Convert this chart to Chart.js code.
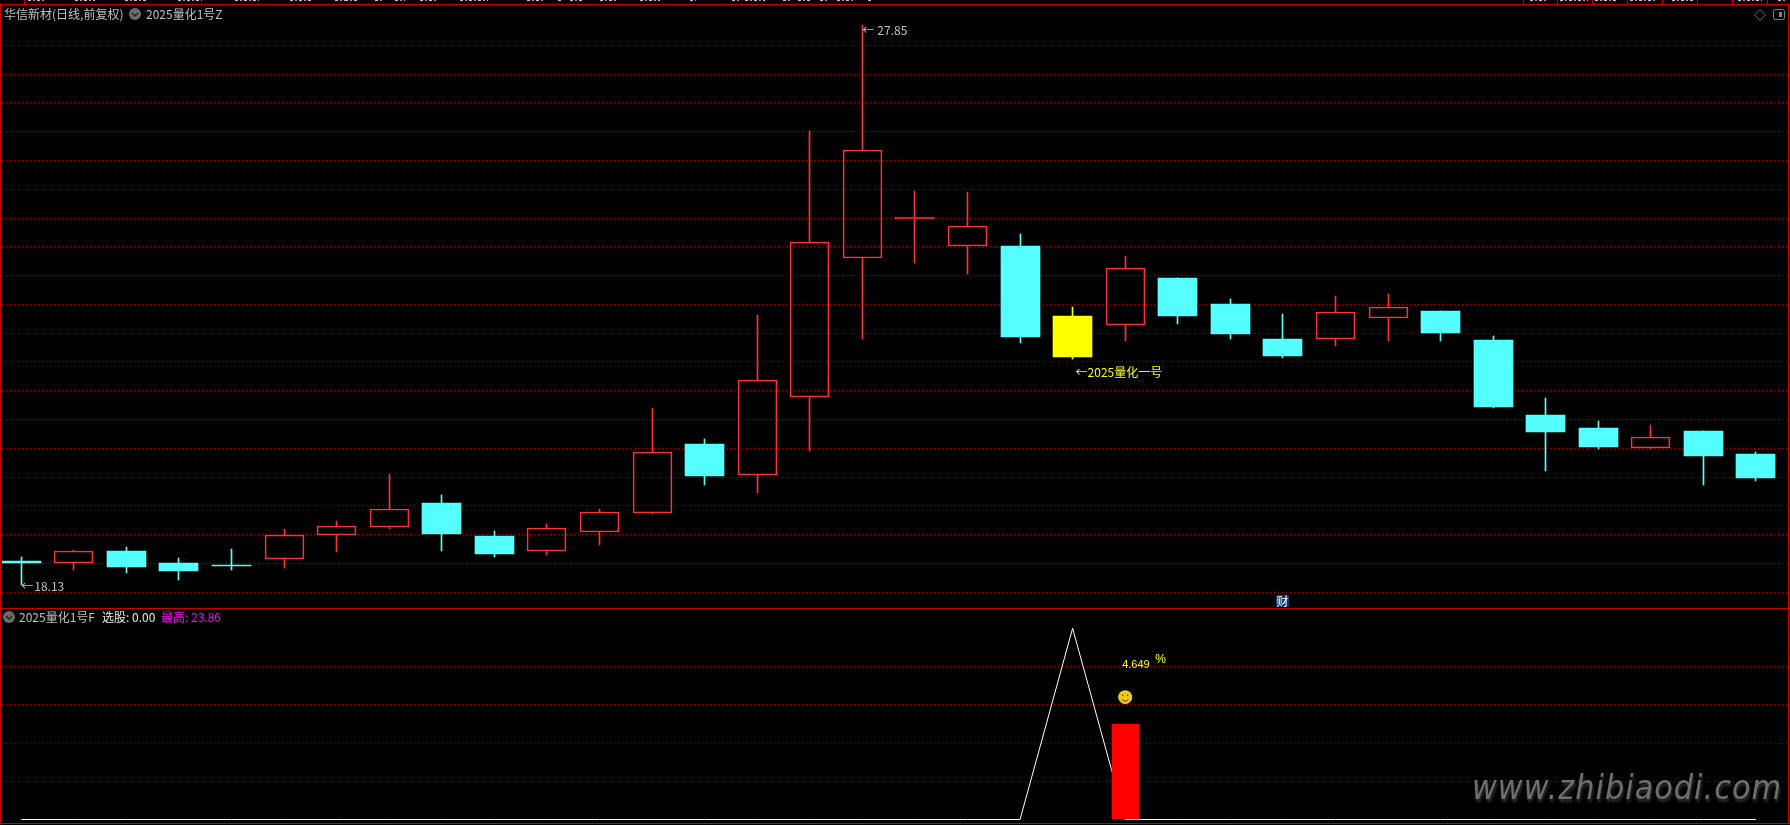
<!DOCTYPE html>
<html>
<head>
<meta charset="utf-8">
<title>华信新材</title>
<script src="https://cdn.jsdelivr.net/npm/chart.js@4/dist/chart.umd.min.js"></script>
<style>
html, body { margin: 0; padding: 0; background: #000; overflow: hidden; }
#page { position: relative; width: 1790px; height: 825px; background: #000; overflow: hidden; }
canvas { position: absolute; left: 0; }
#mainChart { top: 5px; }
#subChart { top: 609px; }
.rule { position: absolute; background: #c80000; }
.label { position: absolute; font: 12px "Noto Sans CJK SC", sans-serif; line-height: 14px; white-space: nowrap; color: #c0c0c0; }
.badge { position: absolute; left: 1276px; top: 595px; width: 13px; height: 12px; background: #0a3a6a; color: #fff; font: 12px/12px "Noto Sans CJK SC", sans-serif; text-align: center; }
.mark { position: absolute; height: 1px; top: 0; }
#watermark { position: absolute; left: 1472px; top: 768px; font: italic 33px "DejaVu Sans", sans-serif; letter-spacing: 1.1px; color: #6f6f6f; text-shadow: 1px 3px 3px #333; white-space: nowrap; transform: scaleX(0.92); transform-origin: left top; }
svg { position: absolute; }
</style>
</head>
<body>
<div id="page">
    <canvas id="mainChart" width="1790" height="603"></canvas>
    <canvas id="subChart" width="1790" height="214"></canvas>
    <div id="watermark">www.zhibiaodi.com</div>

    <div class="label" style="left:4px;top:7px">华信新材(日线,前复权)</div>
    <svg style="left:129px;top:8px" width="12" height="12"><circle cx="6" cy="6" r="6" fill="#6a6a6a"/><path d="M3 5 L6 8 L9 5" stroke="#222" stroke-width="1.5" fill="none"/></svg>
    <div class="label" style="left:146px;top:7px">2025量化1号Z</div>

    <svg style="left:3px;top:611px" width="12" height="12"><circle cx="6" cy="6" r="6" fill="#6a6a6a"/><path d="M3 5 L6 8 L9 5" stroke="#222" stroke-width="1.5" fill="none"/></svg>
    <div class="label" style="left:19px;top:610px">2025量化1号F</div>
    <div class="label" style="left:102px;top:610px;color:#e8e8e8">选股: 0.00</div>
    <div class="label" style="left:161px;top:610px;color:#ff00ff">最高: 23.86</div>

    <svg style="left:1754px;top:9px" width="32" height="12"><path d="M6 0.5 L11.5 6 L6 11.5 L0.5 6 Z" stroke="#707070" fill="none"/><rect x="19.5" y="0.5" width="11" height="10" rx="2" stroke="#808080" fill="none"/><rect x="25" y="3" width="3" height="5" fill="#808080"/></svg>

    <div class="badge">财</div>
</div>
<script>
// candles
const opens = [18.54, 18.50, 18.72, 18.51, 18.47, 18.57, 19.00, 19.14, 19.55, 18.98, 18.71, 19.05, 19.38, 20.58, 20.03, 21.40, 23.81, 24.49, 24.02, 24.01, 22.80, 22.65, 23.46, 23.01, 22.40, 22.40, 22.77, 22.89, 22.38, 21.08, 20.85, 20.51, 20.80, 20.40];
const closes = [18.51, 18.71, 18.44, 18.37, 18.46, 18.99, 19.15, 19.44, 19.01, 18.67, 19.11, 19.39, 20.43, 20.02, 21.68, 24.08, 25.69, 24.52, 24.37, 22.43, 22.09, 23.63, 22.80, 22.49, 22.10, 22.86, 22.95, 22.50, 21.22, 20.78, 20.52, 20.69, 20.37, 19.99];
const highs = [18.61, 18.73, 18.79, 18.60, 18.75, 19.10, 19.24, 20.05, 19.69, 19.06, 19.19, 19.45, 21.20, 20.66, 22.82, 26.01, 27.85, 24.97, 24.95, 24.22, 22.95, 23.84, 23.46, 23.09, 22.83, 23.15, 23.18, 22.89, 22.45, 21.37, 20.98, 20.91, 20.80, 20.44];
const lows = [18.13, 18.39, 18.34, 18.21, 18.39, 18.42, 18.70, 19.10, 18.72, 18.61, 18.65, 18.82, 19.38, 19.86, 19.72, 20.46, 22.40, 23.72, 23.53, 22.33, 22.05, 22.36, 22.66, 22.40, 22.07, 22.28, 22.36, 22.36, 21.20, 20.11, 20.49, 20.51, 19.86, 19.93];
const priceTicks = [18, 18.5, 19, 19.5, 20, 20.5, 21, 21.5, 22, 22.5, 23, 23.5, 24, 24.5, 25, 25.5, 26, 26.5, 27, 27.5];

// lower panel
const pickLine = [0, 0, 0, 0, 0, 0, 0, 0, 0, 0, 0, 0, 0, 0, 0, 0, 0, 0, 0, 0, 23.86, 0, 0, 0, 0, 0, 0, 0, 0, 0, 0, 0, 0, 0];
const pickBars = [null, null, null, null, null, null, null, null, null, null, null, null, null, null, null, null, null, null, null, null, null, 11.9, null, null, null, null, null, null, null, null, null, null, null, null];
const pickTicks = [4.772, 9.544, 14.316, 19.088];

const signalIndex = 20;
const highIndex = 16;
const lowIndex = 0;
const pickBarIndex = 21;

const RED = "#ff3232";
const CYAN = "#54ffff";
const YELLOW = "#ffff00";
const GRID = "#a80000";
const TEXT = "#c0c0c0";
const FONT = "12px 'Noto Sans CJK SC', sans-serif";

Chart.defaults.animation = false;
Chart.defaults.devicePixelRatio = 1;

const isUp = (i) => closes[i] >= opens[i];
const candleColor = (i) => {
    if (i === signalIndex) return YELLOW;
    return isUp(i) ? RED : CYAN;
};
const points = (values) => values.map((v, i) => ({ x: i, y: v }));

// the terminal draws on whole pixels, so put the bars there too
const snapBars = {
    id: "snapBars",
    afterDatasetsUpdate(chart) {
        chart.data.datasets.forEach((ds, d) => {
            const meta = chart.getDatasetMeta(d);
            if (meta.type !== "bar") return;
            meta.data.forEach((bar) => {
                if (bar.skip || isNaN(bar.y)) return;
                bar.x = Math.floor(bar.x) + (bar.width % 2 ? 0.5 : 0);
                const top = Math.round(Math.min(bar.y, bar.base));
                const bottom = Math.round(Math.max(bar.y, bar.base));
                bar.y = top;
                bar.base = Math.max(bottom, top + 1);
            });
        });
    }
};

const candleNotes = {
    id: "candleNotes",
    afterDraw(chart) {
        const ctx = chart.ctx;
        const sx = chart.scales.x;
        const sy = chart.scales.y;
        ctx.save();
        ctx.font = FONT;
        ctx.textBaseline = "middle";
        ctx.textAlign = "left";
        ctx.fillStyle = TEXT;
        const hx = sx.getPixelForValue(highIndex);
        const hy = sy.getPixelForValue(highs[highIndex]);
        ctx.fillText("←", hx, hy + 5);
        ctx.fillText(highs[highIndex].toFixed(2), hx + 15, hy + 5);
        const lx = sx.getPixelForValue(lowIndex);
        const ly = sy.getPixelForValue(lows[lowIndex]);
        ctx.fillText("←", lx, ly + 2);
        ctx.fillText(lows[lowIndex].toFixed(2), lx + 13, ly + 2);
        ctx.fillStyle = YELLOW;
        ctx.fillText("←2025量化一号", sx.getPixelForValue(signalIndex) + 3, sy.getPixelForValue(lows[signalIndex]) + 13);
        ctx.restore();
    }
};

const pickNotes = {
    id: "pickNotes",
    afterDraw(chart) {
        const ctx = chart.ctx;
        const x = chart.scales.x.getPixelForValue(pickBarIndex);
        const y = chart.scales.y.getPixelForValue(pickBars[pickBarIndex]);
        ctx.save();
        ctx.fillStyle = YELLOW;
        ctx.textBaseline = "middle";
        ctx.textAlign = "left";
        ctx.font = "11px 'Liberation Sans', sans-serif";
        ctx.fillText("4.649", x - 3, y - 59);
        ctx.font = "12px 'Liberation Sans', sans-serif";
        ctx.fillText("%", x + 30, y - 64);

        // smiley
        const cy = y - 27;
        ctx.fillStyle = "#eec81c";
        ctx.beginPath();
        ctx.arc(x, cy, 7, 0, Math.PI * 2);
        ctx.fill();
        ctx.fillStyle = "#5a4400";
        ctx.fillRect(x - 3, cy - 3, 1, 2);
        ctx.fillRect(x + 2, cy - 3, 1, 2);
        ctx.strokeStyle = "#5a4400";
        ctx.beginPath();
        ctx.arc(x, cy, 4, 0.2 * Math.PI, 0.8 * Math.PI);
        ctx.stroke();
        ctx.restore();
    }
};

const xAxis = { type: "linear", display: false, offset: false, min: -0.367, max: 33.59 };
const yAxis = (min, max, ticks) => ({
    min: min,
    max: max,
    afterBuildTicks: (axis) => { axis.ticks = ticks.map((v) => ({ value: v })); },
    ticks: { display: false },
    border: { display: false, dash: [1, 3] },
    grid: { color: GRID, lineWidth: 1, drawTicks: false }
});
const baseOptions = {
    responsive: false,
    layout: { padding: { left: 2, right: 3, top: 0, bottom: 0 } },
    plugins: { legend: { display: false }, tooltip: { enabled: false } }
};

new Chart(document.getElementById("mainChart"), {
    type: "bar",
    plugins: [snapBars, candleNotes],
    data: {
        datasets: [
            {
                label: "upper wick",
                data: points(highs.map((h, i) => [Math.max(opens[i], closes[i]), h])),
                barThickness: 1,
                grouped: false,
                backgroundColor: (c) => candleColor(c.dataIndex)
            },
            {
                label: "lower wick",
                data: points(lows.map((l, i) => [l, Math.min(opens[i], closes[i])])),
                barThickness: 1,
                grouped: false,
                backgroundColor: (c) => candleColor(c.dataIndex)
            },
            {
                label: "body",
                data: points(opens.map((o, i) => [o, closes[i]])),
                barThickness: 39,
                grouped: false,
                borderSkipped: false,
                borderWidth: (c) => (isUp(c.dataIndex) ? 1 : 0),
                borderColor: RED,
                backgroundColor: (c) => {
                    if (c.dataIndex === signalIndex) return YELLOW;
                    return isUp(c.dataIndex) ? "transparent" : CYAN;
                }
            }
        ]
    },
    options: Object.assign({}, baseOptions, {
        scales: { x: xAxis, y: yAxis(17.727, 28.2, priceTicks) }
    })
});

new Chart(document.getElementById("subChart"), {
    type: "bar",
    plugins: [snapBars, pickNotes],
    data: {
        datasets: [
            {
                type: "bar",
                label: "bar",
                order: 0,
                data: points(pickBars),
                barThickness: 27,
                grouped: false,
                backgroundColor: "#ff0000"
            },
            {
                type: "line",
                label: "选股",
                order: 1,
                data: points(pickLine),
                borderColor: "#ffffff",
                borderWidth: 1,
                tension: 0,
                pointRadius: 0
            }
        ]
    },
    options: Object.assign({}, baseOptions, {
        scales: { x: xAxis, y: yAxis(-0.437, 26.27, pickTicks) }
    })
});

// panel frame and the cut off status row
const page = document.getElementById("page");
const addRule = (x, y, w, h) => {
    const d = document.createElement("div");
    d.className = "rule";
    d.style.cssText = "left:" + x + "px;top:" + y + "px;width:" + w + "px;height:" + h + "px";
    page.appendChild(d);
};
addRule(0, 4, 1790, 1);
addRule(0, 608, 1790, 1);
addRule(0, 823, 1790, 1);
addRule(0, 4, 1, 820);
addRule(1788, 4, 1, 820);
[24, 1523, 1557, 1592, 1627, 1662, 1697, 1732, 1767].forEach((x) => addRule(x, 0, 1, 4));

const statusMarks = [[28, 18], [75, 20], [125, 22], [178, 24], [235, 24], [290, 22], [335, 16], [345, 12], [375, 8], [395, 10], [420, 18], [460, 28], [527, 18], [558, 5], [570, 14], [600, 18], [640, 20], [690, 6], [732, 8], [745, 20], [783, 8], [798, 12], [820, 8], [837, 18], [868, 5], [1530, 18], [1560, 28], [1595, 22], [1630, 26], [1672, 22], [1738, 24], [1778, 8]];
statusMarks.forEach((m) => {
    const d = document.createElement("div");
    d.className = "mark";
    d.style.cssText = "left:" + m[0] + "px;width:" + m[1] + "px;background:repeating-linear-gradient(90deg,#b8c8d8 0 3px,#000 3px 5px,#c89050 5px 7px,#000 7px 9px)";
    page.appendChild(d);
});
</script>
</body>
</html>
